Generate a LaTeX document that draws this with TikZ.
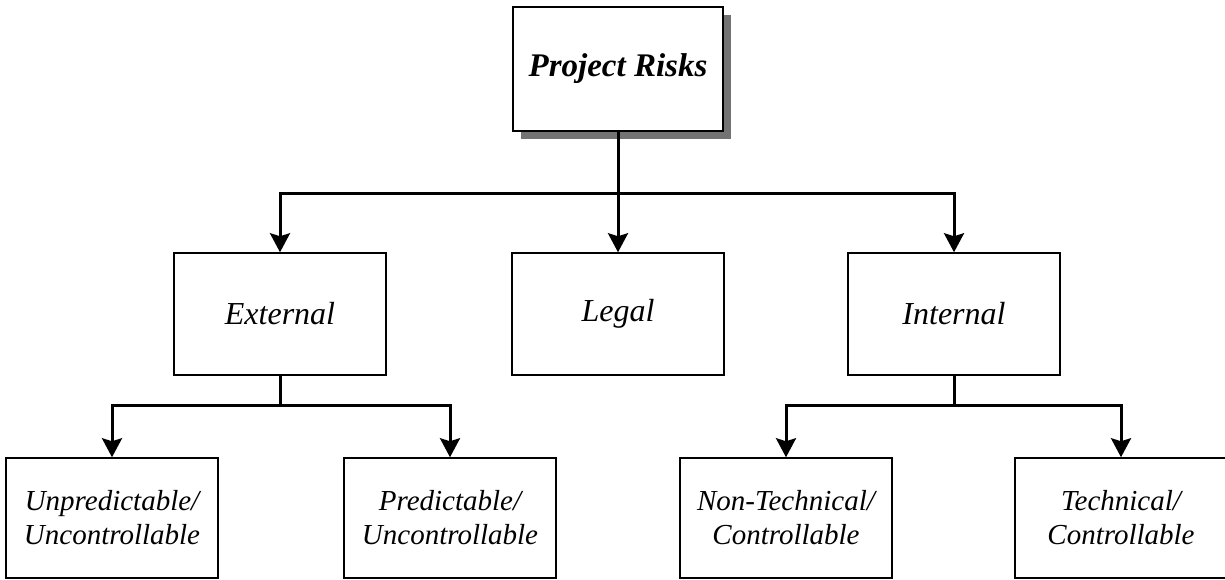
\documentclass[tikz,border=0pt]{standalone}
\usepackage{fontspec}
\setmainfont{Liberation Serif}
\usetikzlibrary{shadows,arrows.meta}
\begin{document}
\begin{tikzpicture}[x=1pt,y=-1pt,
    box/.style={draw,line width=1.5pt,fill=white,minimum width=212pt,minimum height=122pt,
        inner sep=0pt,align=center,font=\itshape\fontsize{32}{36}\selectfont},
    leafbox/.style={box,minimum height=120pt,font=\itshape\fontsize{29}{34}\selectfont},
    rootbox/.style={box,minimum width=210pt,minimum height=124pt,font=\bfseries\itshape\fontsize{33}{38}\selectfont,
        drop shadow={shadow xshift=8pt,shadow yshift=-8pt,fill=black!55,opacity=1}},
    wire/.style={line width=3pt},
    arrow/.style={wire,-{Stealth[width=20pt,length=19pt,inset=3pt]}}]
    \useasboundingbox (0,0) rectangle (1225,580);
    % boxes
    \node[rootbox] (risks) at (618,69) {Project Risks};
    \node[box] (external) at (280,314) {External};
    \node[box] (legal) at (618,314) {Legal};
    \node[box] (internal) at (954,314) {Internal};
    \node[leafbox] (unpred) at (112,518) {Unpredictable/\\Uncontrollable};
    \node[leafbox] (pred) at (450,518) {Predictable/\\Uncontrollable};
    \node[leafbox] (nontech) at (786,518) {Non-Technical/\\Controllable};
    \node[leafbox] (tech) at (1121,518) {Technical/\\Controllable};
    % connectors
    \draw[wire] (risks.south) -- ++(0,62) coordinate (hub);
    \draw[arrow] (hub) -| (external.north);
    \draw[arrow] (hub) -- (legal.north);
    \draw[arrow] (hub) -| (internal.north);
    \draw[wire] (external.south) -- ++(0,30) coordinate (exthub);
    \draw[arrow] (exthub) -| (unpred.north);
    \draw[arrow] (exthub) -| (pred.north);
    \draw[wire] (internal.south) -- ++(0,30) coordinate (inthub);
    \draw[arrow] (inthub) -| (nontech.north);
    \draw[arrow] (inthub) -| (tech.north);
\end{tikzpicture}
\end{document}
